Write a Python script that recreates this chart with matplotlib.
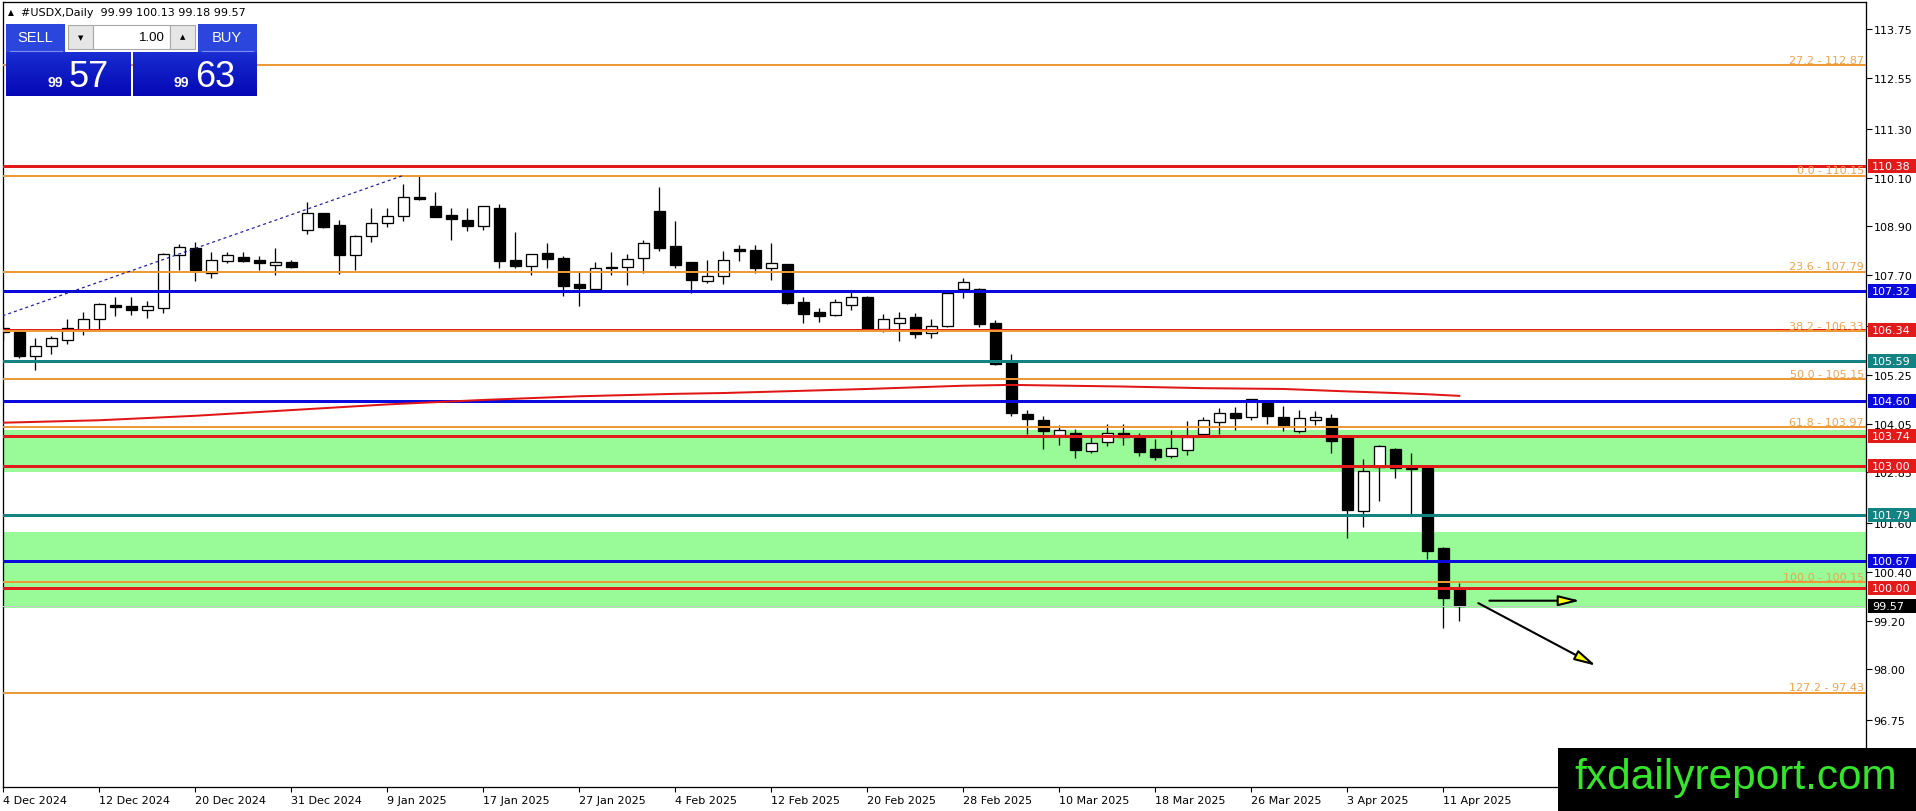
import matplotlib
matplotlib.use("Agg")
import matplotlib.pyplot as plt
from matplotlib.patches import Rectangle, FancyArrowPatch
from matplotlib.transforms import blended_transform_factory
from matplotlib.colors import LinearSegmentedColormap
import numpy as np

# ---------------- data ----------------
opens = [106.40, 106.30, 105.71, 105.96, 106.11, 106.36, 106.62, 106.96, 106.93, 106.84,
         106.90, 108.20, 108.36, 107.75, 108.04, 108.15, 108.07, 107.94, 108.02, 108.80,
         109.22, 108.93, 108.20, 108.66, 108.98, 109.15, 109.62, 109.39, 109.18, 109.06,
         108.90, 109.35, 108.07, 107.93, 108.25, 108.12, 107.49, 107.36, 107.91, 107.91,
         108.13, 109.28, 108.42, 108.02, 107.56, 107.69, 108.34, 108.32, 107.88, 107.97,
         107.04, 106.79, 106.72, 106.97, 107.17, 106.38, 106.52, 106.67, 106.27, 106.44,
         107.36, 107.37, 106.53, 105.57, 104.28, 104.14, 103.77, 103.82, 103.38, 103.59,
         103.82, 103.69, 103.42, 103.24, 103.41, 103.79, 104.09, 104.31, 104.22, 104.55,
         104.20, 103.87, 104.14, 104.18, 103.73, 101.90, 102.99, 103.42, 102.97, 102.96,
         100.98, 99.99]
highs = [106.70, 106.32, 106.15, 106.21, 106.62, 106.79, 107.02, 107.16, 107.16, 107.06,
         108.25, 108.47, 108.51, 108.28, 108.28, 108.27, 108.16, 108.37, 108.07, 109.49,
         109.23, 109.06, 108.68, 109.35, 109.35, 109.94, 110.15, 109.74, 109.35, 109.35,
         109.40, 109.45, 108.77, 108.22, 108.49, 108.16, 107.77, 108.02, 108.27, 108.22,
         108.56, 109.86, 109.03, 108.03, 108.07, 108.30, 108.44, 108.44, 108.50, 107.98,
         107.16, 106.89, 107.11, 107.31, 107.18, 106.74, 106.79, 106.77, 106.62, 107.27,
         107.62, 107.38, 106.60, 105.76, 104.38, 104.23, 104.02, 103.91, 103.71, 104.05,
         104.05, 103.81, 103.67, 103.89, 104.10, 104.22, 104.43, 104.45, 104.66, 104.60,
         104.47, 104.38, 104.35, 104.28, 103.74, 103.18, 103.51, 103.45, 103.32, 102.98,
         101.00, 100.13]
lows = [106.09, 105.66, 105.37, 105.76, 106.01, 106.24, 106.38, 106.69, 106.73, 106.65,
        106.77, 107.83, 107.56, 107.64, 108.01, 108.02, 107.83, 107.70, 107.88, 108.71,
        108.86, 107.72, 107.83, 108.52, 108.89, 109.04, 109.56, 109.13, 108.57, 108.79,
        108.80, 107.88, 107.88, 107.70, 107.88, 107.19, 106.93, 107.30, 107.71, 107.47,
        107.76, 108.30, 107.88, 107.26, 107.51, 107.49, 108.06, 107.75, 107.59, 106.99,
        106.52, 106.56, 106.70, 106.85, 106.37, 106.29, 106.09, 106.16, 106.15, 106.43,
        107.15, 106.43, 105.49, 104.23, 103.79, 103.42, 103.53, 103.19, 103.32, 103.49,
        103.53, 103.26, 103.16, 103.20, 103.28, 103.78, 103.79, 103.90, 104.14, 104.04,
        103.87, 103.82, 104.01, 103.32, 101.24, 101.51, 102.15, 102.71, 101.82, 100.72,
        99.01, 99.18]
closes = [106.30, 105.71, 105.95, 106.15, 106.39, 106.62, 106.98, 106.92, 106.84, 106.93,
          108.22, 108.39, 107.83, 108.07, 108.19, 108.06, 107.99, 108.02, 107.89, 109.22,
          108.89, 108.20, 108.67, 108.98, 109.15, 109.62, 109.58, 109.14, 109.07, 108.92,
          109.39, 108.06, 107.93, 108.21, 108.11, 107.44, 107.38, 107.87, 107.88, 108.11,
          108.49, 108.37, 107.96, 107.59, 107.67, 108.07, 108.30, 107.88, 107.99, 107.02,
          106.75, 106.70, 107.03, 107.16, 106.38, 106.62, 106.65, 106.26, 106.46, 107.25,
          107.52, 106.50, 105.51, 104.30, 104.16, 103.87, 103.89, 103.41, 103.56, 103.82,
          103.71, 103.35, 103.22, 103.44, 103.72, 104.14, 104.30, 104.18, 104.65, 104.24,
          104.02, 104.18, 104.20, 103.63, 101.93, 102.87, 103.49, 102.95, 102.94, 100.92,
          99.75, 99.57]

date_tick_index = [0, 6, 12, 18, 24, 30, 36, 42, 48, 54, 60, 66, 72, 78, 84, 90]
date_tick_labels = ["4 Dec 2024", "12 Dec 2024", "20 Dec 2024", "31 Dec 2024", "9 Jan 2025",
                    "17 Jan 2025", "27 Jan 2025", "4 Feb 2025", "12 Feb 2025", "20 Feb 2025",
                    "28 Feb 2025", "10 Mar 2025", "18 Mar 2025", "26 Mar 2025", "3 Apr 2025",
                    "11 Apr 2025"]
price_ticks = [113.75, 112.55, 111.30, 110.10, 108.90, 107.70, 106.45, 105.25, 104.05,
               102.85, 101.60, 100.40, 99.20, 98.00, 96.75]

level_prices = [110.38, 107.32, 106.34, 105.59, 104.60, 103.74, 103.00, 101.79, 100.67, 100.00]
level_kinds = ["red", "blue", "red", "teal", "blue", "red", "red", "teal", "blue", "red"]

fib_ratios = ["27.2", "0.0", "23.6", "38.2", "50.0", "61.8", "100.0", "127.2"]
fib_prices = [112.87, 110.15, 107.79, 106.33, 105.15, 103.97, 100.15, 97.43]

zone_lows = [102.86, 99.51]
zone_highs = [103.88, 101.38]

bid_price = 99.57
sell_price = "99.57"
buy_price = "99.63"
lot_size = "1.00"
symbol = "#USDX,Daily"

ma_index = [0, 6, 12, 18, 24, 30, 36, 42, 45, 54, 60, 63, 70, 75, 80, 84, 87, 89, 91]
ma_values = [104.07, 104.13, 104.24, 104.38, 104.52, 104.63, 104.72, 104.78, 104.80, 104.90,
             104.98, 105.00, 104.96, 104.92, 104.90, 104.84, 104.80, 104.77, 104.73]

trend_index = [-0.04, 24.97]
trend_prices = [106.70, 110.15]

arrow_start_index = [92.88, 92.19]
arrow_start_price = [99.69, 99.63]
arrow_end_index = [98.55, 99.54]
arrow_end_price = [99.69, 98.09]

watermark = "fxdailyreport.com"

# ---------------- layout / style ----------------
W, H, DPI = 1916, 812, 100
PT = 72.0 / DPI  # points per pixel
COLORS = {"red": "#E31A1A", "blue": "#0A0ADC", "teal": "#138282"}
FIB_COLOR = "#EC9A38"
FIB_TEXT = "#EFA24C"

fig = plt.figure(figsize=(W / DPI, H / DPI), dpi=DPI)
fig.patch.set_facecolor("white")

AX_L, AX_R, AX_T, AX_B = 2.7, 1866.0, 2.7, 788.0
ax = fig.add_axes([AX_L / W, (H - AX_B) / H, (AX_R - AX_L) / W, (AX_B - AX_T) / H])
ax.set_facecolor("white")

# pixel -> data helpers for the view
PX_PER_BAR = 16.0
X0_PX = 3.3
Y_REF_PX, Y_REF_P, PX_PER_UNIT = 30.3, 113.75, 40.64
ax.set_xlim((AX_L - X0_PX) / PX_PER_BAR, (AX_R - X0_PX) / PX_PER_BAR)
ax.set_ylim(Y_REF_P - (AX_B - Y_REF_PX) / PX_PER_UNIT, Y_REF_P + (Y_REF_PX - AX_T) / PX_PER_UNIT)

# zones
for lo, hi in zip(zone_lows, zone_highs):
    ax.axhspan(lo, hi, color="#98FB98", zorder=1, lw=0)

# candles
n = len(opens)
xs = np.arange(n)
o = np.array(opens); c = np.array(closes)
bottoms = np.minimum(o, c)
heights = np.maximum(np.abs(c - o), 0.03)
fills = ["white" if cc > oo else "black" for oo, cc in zip(o, c)]
ax.vlines(xs, lows, highs, color="black", lw=1.0 * PT * 1.3, zorder=2.6)
ax.bar(xs, heights, bottom=bottoms, width=0.68, color=fills, edgecolor="black",
       linewidth=1.0 * PT * 1.3, zorder=3)

# horizontal levels
ax.axhline(bid_price, color="#C8C8C8", lw=1.0 * PT, zorder=3.5)
for p, k in zip(level_prices, level_kinds):
    ax.axhline(p, color=COLORS[k], lw=3 * PT, zorder=4)
for p in fib_prices:
    ax.axhline(p, color=FIB_COLOR, lw=2 * PT, zorder=4.2)

tr = blended_transform_factory(ax.transAxes, ax.transData)
for r, p in zip(fib_ratios, fib_prices):
    ax.annotate(f"{r} - {p:.2f}", xy=(1, p), xycoords=tr, xytext=(-1.5, 1.6),
                textcoords="offset points", ha="right", va="baseline",
                fontsize=8, color=FIB_TEXT, zorder=4.5)

# moving average
ax.plot(ma_index, ma_values, color="#E01515", lw=2 * PT, zorder=4.3)

# dotted trend line
ax.plot(trend_index, trend_prices, color="#1C1C9C", lw=1.0 * PT * 1.2,
        linestyle=(0, (2.5, 2.5)), zorder=4.3)

# arrows
for xa0, ya0, xa1, ya1 in zip(arrow_start_index, arrow_start_price, arrow_end_index, arrow_end_price):
    arr = FancyArrowPatch((xa0, ya0), (xa1, ya1), arrowstyle="-|>,head_length=13,head_width=3.2",
                          mutation_scale=1, facecolor="#FFFF00", edgecolor="black",
                          lw=1.5, shrinkA=0, shrinkB=0, zorder=6)
    ax.add_patch(arr)

# axes styling
for s in ax.spines.values():
    s.set_color("black")
    s.set_linewidth(1.0 * PT * 1.3)
ax.yaxis.tick_right()
ax.set_yticks(price_ticks)
ax.set_yticklabels([f"{p:.2f}" for p in price_ticks])
ax.tick_params(axis="y", length=4, width=0.8, pad=1.5, labelsize=8, colors="black")
ax.set_xticks(date_tick_index)
ax.set_xticklabels(date_tick_labels)
ax.tick_params(axis="x", length=3.5, width=0.8, pad=2.5, labelsize=8, colors="black")
for lbl in ax.get_xticklabels():
    lbl.set_horizontalalignment("left")

# right price boxes
def xa(px):
    return (px - AX_L) / (AX_R - AX_L)

box_h = 14 / PX_PER_UNIT
box_prices = level_prices + [bid_price]
box_colors = [COLORS[k] for k in level_kinds] + ["black"]
for p, col in zip(box_prices, box_colors):
    ax.add_patch(Rectangle((xa(1868), p - box_h / 2), xa(1916) - xa(1868), box_h,
                           transform=tr, clip_on=False, facecolor=col, edgecolor="none", zorder=7))
    ax.text(xa(1872), p, f"{p:.2f}", transform=tr, clip_on=False, ha="left", va="center",
            fontsize=8, color="white", zorder=8)

# ---------------- overlay (pixel coordinates) ----------------
ov = fig.add_axes([0, 0, 1, 1], zorder=10)
ov.set_xlim(0, W)
ov.set_ylim(H, 0)
ov.axis("off")
ov.patch.set_alpha(0)

grad = np.linspace(0, 1, 100).reshape(-1, 1)
cmap = LinearSegmentedColormap.from_list("panel", ["#3550E4", "#1426CC", "#0508B4"])

def gpanel(x0, y0, x1, y1):
    ov.imshow(grad, extent=(x0, x1, y1, y0), cmap=cmap, aspect="auto", origin="upper",
              interpolation="bilinear", zorder=1)

gpanel(6, 25, 131, 97)
gpanel(133, 25, 257, 97)
ov.add_patch(Rectangle((65, 25), 133, 27.5, facecolor="white", edgecolor="none", zorder=2))
ov.add_patch(Rectangle((6, 25), 59, 27.5, facecolor="#2A46DC", edgecolor="none", zorder=1.5))
ov.add_patch(Rectangle((198, 25), 59, 27.5, facecolor="#2A46DC", edgecolor="none", zorder=1.5))
# lot control
ov.add_patch(Rectangle((68, 25.5), 25, 24.5, facecolor="#E6E6E6", edgecolor="#A8A8A8", lw=0.8, zorder=3))
ov.add_patch(Rectangle((93, 25.5), 77, 24.5, facecolor="white", edgecolor="#A8A8A8", lw=0.8, zorder=3))
ov.add_patch(Rectangle((170, 25.5), 25, 24.5, facecolor="#E6E6E6", edgecolor="#A8A8A8", lw=0.8, zorder=3))
ov.text(80.5, 38, "\u25BC", fontsize=5, ha="center", va="center", color="black", zorder=4)
ov.text(182.5, 37, "\u25B2", fontsize=5, ha="center", va="center", color="black", zorder=4)
ov.text(165, 38, lot_size, fontsize=9.5, ha="right", va="center", color="black", zorder=4,
        family=["Liberation Sans", "DejaVu Sans"])
# separators under SELL/BUY
ov.plot([10, 62], [52, 52], color="#7C8CF0", lw=0.8, zorder=4)
ov.plot([202, 253], [52, 52], color="#7C8CF0", lw=0.8, zorder=4)
ov.text(35.5, 38.5, "SELL", fontsize=10.5, ha="center", va="center", color="white", zorder=4,
        family=["Liberation Sans", "DejaVu Sans"])
ov.text(227, 38.5, "BUY", fontsize=10.5, ha="center", va="center", color="white", zorder=4,
        family=["Liberation Sans", "DejaVu Sans"])
big, small = sell_price.split(".")
ov.text(63, 87, big, fontsize=10, fontweight="bold", ha="right", va="baseline", color="white",
        zorder=4, family=["Liberation Sans", "DejaVu Sans"])
ov.text(69, 87, small, fontsize=26, ha="left", va="baseline", color="white", zorder=4,
        family=["Liberation Sans", "DejaVu Sans"])
big, small = buy_price.split(".")
ov.text(189, 87, big, fontsize=10, fontweight="bold", ha="right", va="baseline", color="white",
        zorder=4, family=["Liberation Sans", "DejaVu Sans"])
ov.text(195, 87, small, fontsize=26, ha="left", va="baseline", color="white", zorder=4,
        family=["Liberation Sans", "DejaVu Sans"])

# header
ov.text(11, 12.5, "\u25B2", fontsize=5.5, ha="center", va="center", color="black", zorder=4)
ov.text(21.5, 12.5, f"{symbol}  {opens[-1]:.2f} {highs[-1]:.2f} {lows[-1]:.2f} {closes[-1]:.2f}",
        fontsize=8, ha="left", va="center", color="black", zorder=4)

# watermark
ov.add_patch(Rectangle((1558, 749), W - 1558, H - 749, facecolor="black", edgecolor="none", zorder=5))
ov.text(1736, 789, watermark, fontsize=30.5, ha="center", va="baseline", color="#35E52B",
        zorder=6, family=["Liberation Sans", "DejaVu Sans"])

fig.savefig("out.png", dpi=DPI)
